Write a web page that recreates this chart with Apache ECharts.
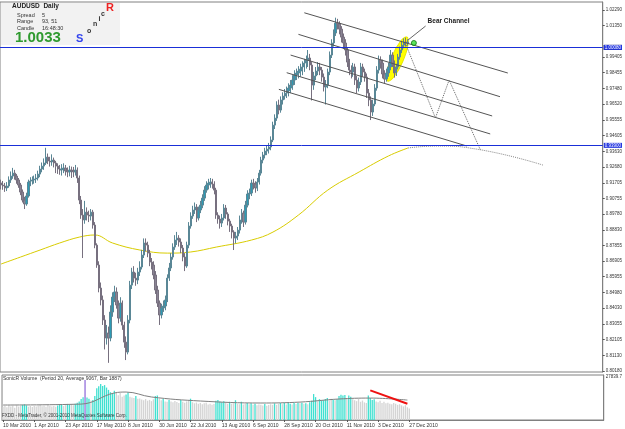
<!DOCTYPE html>
<html>
<head>
<meta charset="utf-8">
<title>AUDUSD Daily</title>
<script src="https://cdn.jsdelivr.net/npm/echarts@6/dist/echarts.min.js"></script>
<style>
  html, body { margin: 0; padding: 0; background: #fff; }
  #chart { width: 625px; height: 429px; }
</style>
</head>
<body>
<div id="chart"></div>
<script>
// daily bars from 10 Mar 2010, [open, close, low, high]
const candles = [
  [0.9170,0.9157,0.9130,0.9190],[0.9157,0.9151,0.9128,0.9182],[0.9151,0.9139,0.9115,0.9170],[0.9139,0.9151,0.9120,0.9175],
  [0.9151,0.9188,0.9140,0.9210],[0.9188,0.9212,0.9170,0.9240],[0.9212,0.9230,0.9195,0.9262],[0.9230,0.9212,0.9190,0.9250],
  [0.9212,0.9188,0.9165,0.9225],[0.9188,0.9157,0.9140,0.9200],[0.9157,0.9114,0.9095,0.9170],[0.9114,0.9065,0.9050,0.9130],
  [0.9065,0.9041,0.9010,0.9085],[0.9041,0.9090,0.9030,0.9110],[0.9090,0.9175,0.9080,0.9190],[0.9175,0.9181,0.9150,0.9205],
  [0.9181,0.9188,0.9160,0.9210],[0.9188,0.9194,0.9165,0.9215],[0.9194,0.9200,0.9170,0.9225],[0.9200,0.9224,0.9185,0.9245],
  [0.9224,0.9255,0.9205,0.9275],[0.9255,0.9273,0.9235,0.9295],[0.9273,0.9292,0.9250,0.9320],[0.9292,0.9328,0.9280,0.9385],
  [0.9328,0.9304,0.9285,0.9350],[0.9304,0.9298,0.9270,0.9330],[0.9298,0.9310,0.9275,0.9345],[0.9310,0.9292,0.9265,0.9325],
  [0.9292,0.9273,0.9230,0.9305],[0.9273,0.9255,0.9225,0.9290],[0.9255,0.9249,0.9220,0.9280],[0.9249,0.9255,0.9215,0.9285],
  [0.9255,0.9261,0.9230,0.9290],[0.9261,0.9243,0.9215,0.9280],[0.9243,0.9237,0.9205,0.9265],[0.9237,0.9249,0.9210,0.9275],
  [0.9249,0.9243,0.9200,0.9270],[0.9243,0.9237,0.9205,0.9268],[0.9237,0.9249,0.9215,0.9280],[0.9249,0.9200,0.9170,0.9265],
  [0.9200,0.9065,0.9040,0.9215],[0.9065,0.8973,0.8950,0.9090],[0.8973,0.8943,0.8710,0.9010],[0.8943,0.8991,0.8920,0.9060],
  [0.8991,0.8973,0.8940,0.9020],[0.8973,0.8967,0.8930,0.9000],[0.8967,0.8991,0.8940,0.9010],[0.8991,0.8912,0.8890,0.9005],
  [0.8912,0.8789,0.8770,0.8930],[0.8789,0.8667,0.8650,0.8800],[0.8667,0.8526,0.8500,0.8690],[0.8526,0.8453,0.8420,0.8560],
  [0.8453,0.8330,0.8300,0.8480],[0.8330,0.8220,0.8150,0.8360],[0.8220,0.8250,0.8180,0.8300],[0.8250,0.8220,0.8068,0.8290],
  [0.8220,0.8379,0.8200,0.8420],[0.8379,0.8471,0.8350,0.8500],[0.8471,0.8502,0.8440,0.8540],[0.8502,0.8422,0.8400,0.8530],
  [0.8422,0.8342,0.8310,0.8450],[0.8342,0.8434,0.8320,0.8470],[0.8434,0.8299,0.8270,0.8450],[0.8299,0.8195,0.8160,0.8320],
  [0.8195,0.8134,0.8085,0.8230],[0.8134,0.8330,0.8120,0.8360],[0.8330,0.8544,0.8310,0.8570],[0.8544,0.8624,0.8520,0.8650],
  [0.8624,0.8587,0.8560,0.8660],[0.8587,0.8575,0.8540,0.8620],[0.8575,0.8624,0.8550,0.8650],[0.8624,0.8655,0.8600,0.8690],
  [0.8655,0.8728,0.8640,0.8760],[0.8728,0.8802,0.8710,0.8830],[0.8802,0.8789,0.8750,0.8830],[0.8789,0.8740,0.8715,0.8810],
  [0.8740,0.8685,0.8660,0.8760],[0.8685,0.8667,0.8640,0.8710],[0.8667,0.8606,0.8580,0.8690],[0.8606,0.8514,0.8490,0.8630],
  [0.8514,0.8434,0.8410,0.8540],[0.8434,0.8361,0.8300,0.8450],[0.8361,0.8404,0.8340,0.8430],[0.8404,0.8416,0.8380,0.8450],
  [0.8416,0.8453,0.8390,0.8480],[0.8453,0.8587,0.8440,0.8610],[0.8587,0.8649,0.8570,0.8680],[0.8649,0.8716,0.8630,0.8740],
  [0.8716,0.8777,0.8700,0.8800],[0.8777,0.8820,0.8760,0.8850],[0.8820,0.8832,0.8790,0.8870],[0.8832,0.8808,0.8780,0.8850],
  [0.8808,0.8771,0.8740,0.8830],[0.8771,0.8716,0.8690,0.8790],[0.8716,0.8661,0.8630,0.8740],[0.8661,0.8789,0.8650,0.8810],
  [0.8789,0.8906,0.8770,0.8930],[0.8906,0.8967,0.8890,0.8990],[0.8967,0.9004,0.8950,0.9030],[0.9004,0.9022,0.8980,0.9050],
  [0.9022,0.8955,0.8930,0.9040],[0.8955,0.9004,0.8940,0.9025],[0.9004,0.9034,0.8985,0.9060],[0.9034,0.9077,0.9015,0.9100],
  [0.9077,0.9126,0.9060,0.9150],[0.9126,0.9157,0.9110,0.9180],[0.9157,0.9169,0.9130,0.9195],[0.9169,0.9175,0.9140,0.9200],
  [0.9175,0.9163,0.9135,0.9195],[0.9163,0.9126,0.9100,0.9180],[0.9126,0.8973,0.8950,0.9140],[0.8973,0.8949,0.8920,0.8990],
  [0.8949,0.8924,0.8890,0.8970],[0.8924,0.8955,0.8900,0.8980],[0.8955,0.9016,0.8940,0.9040],[0.9016,0.8979,0.8950,0.9035],
  [0.8979,0.8936,0.8910,0.8990],[0.8936,0.8906,0.8870,0.8950],[0.8906,0.8869,0.8830,0.8920],[0.8869,0.8832,0.8759,0.8880],
  [0.8832,0.8845,0.8800,0.8870],[0.8845,0.8881,0.8820,0.8900],[0.8881,0.8943,0.8860,0.8970],[0.8943,0.8985,0.8920,0.9010],
  [0.8985,0.8930,0.8900,0.9000],[0.8930,0.9034,0.8915,0.9060],[0.9034,0.9102,0.9020,0.9125],[0.9102,0.9108,0.9070,0.9135],
  [0.9108,0.9169,0.9090,0.9190],[0.9169,0.9163,0.9130,0.9195],[0.9163,0.9139,0.9110,0.9180],[0.9139,0.9175,0.9120,0.9200],
  [0.9175,0.9230,0.9160,0.9250],[0.9230,0.9310,0.9215,0.9330],[0.9310,0.9341,0.9290,0.9360],[0.9341,0.9365,0.9320,0.9385],
  [0.9365,0.9377,0.9340,0.9400],[0.9377,0.9390,0.9350,0.9415],[0.9390,0.9433,0.9370,0.9455],[0.9433,0.9524,0.9420,0.9545],
  [0.9524,0.9567,0.9500,0.9590],[0.9567,0.9647,0.9550,0.9670],[0.9647,0.9616,0.9590,0.9680],[0.9616,0.9678,0.9600,0.9700],
  [0.9678,0.9702,0.9650,0.9725],[0.9702,0.9720,0.9680,0.9745],[0.9720,0.9733,0.9690,0.9760],[0.9733,0.9751,0.9700,0.9780],
  [0.9751,0.9769,0.9720,0.9800],[0.9769,0.9800,0.9740,0.9830],[0.9800,0.9831,0.9770,0.9860],[0.9831,0.9843,0.9800,0.9870],
  [0.9843,0.9855,0.9810,0.9885],[0.9855,0.9867,0.9820,0.9900],[0.9867,0.9880,0.9830,0.9915],[0.9880,0.9904,0.9850,0.9930],
  [0.9904,0.9923,0.9870,0.9950],[0.9923,0.9935,0.9880,0.9984],[0.9935,0.9892,0.9860,0.9960],[0.9892,0.9769,0.9675,0.9910],
  [0.9769,0.9825,0.9740,0.9850],[0.9825,0.9855,0.9800,0.9880],[0.9855,0.9880,0.9830,0.9910],[0.9880,0.9861,0.9830,0.9905],
  [0.9861,0.9818,0.9790,0.9880],[0.9818,0.9757,0.9730,0.9840],[0.9757,0.9769,0.9650,0.9800],[0.9769,0.9849,0.9750,0.9870],
  [0.9849,0.9953,0.9830,0.9975],[0.9953,1.0027,0.9935,1.0050],[1.0027,1.0088,1.0005,1.0110],[1.0088,1.0149,1.0070,1.0182],
  [1.0149,1.0143,1.0110,1.0175],[1.0143,1.0112,1.0080,1.0160],[1.0112,1.0063,1.0030,1.0130],[1.0063,1.0027,0.9990,1.0085],
  [1.0027,0.9984,0.9950,1.0050],[0.9984,0.9910,0.9880,1.0000],[0.9910,0.9861,0.9830,0.9930],[0.9861,0.9849,0.9810,0.9890],
  [0.9849,0.9880,0.9820,0.9905],[0.9880,0.9800,0.9770,0.9900],[0.9800,0.9751,0.9720,0.9825],[0.9751,0.9788,0.9730,0.9815],
  [0.9788,0.9880,0.9770,0.9905],[0.9880,0.9849,0.9820,0.9900],[0.9849,0.9818,0.9790,0.9870],[0.9818,0.9720,0.9690,0.9840],
  [0.9720,0.9678,0.9640,0.9745],[0.9678,0.9604,0.9555,0.9700],[0.9604,0.9653,0.9580,0.9680],[0.9653,0.9751,0.9640,0.9775],
  [0.9751,0.9861,0.9735,0.9885],[0.9861,0.9923,0.9840,0.9950],[0.9923,0.9904,0.9870,0.9945],[0.9904,0.9837,0.9810,0.9925],
  [0.9837,0.9806,0.9780,0.9860],[0.9806,0.9843,0.9790,0.9870],[0.9843,0.9880,0.9820,0.9905],[0.9880,0.9953,0.9860,0.9984],
  [0.9953,0.9904,0.9880,0.9970],[0.9904,0.9843,0.9815,0.9920],[0.9843,0.9880,0.9825,0.9900],[0.9880,0.9941,0.9865,0.9960],
  [0.9941,0.9984,0.9925,1.0005],[0.9984,1.0014,0.9965,1.0035],[1.0014,1.0033,0.9995,1.0055],[1.0033,1.0027,1.0005,1.0060],
  [1.0027,1.0033,1.0010,1.0050]
];

// SonicR volume per bar and its colour state (0 grey, 1 turquoise, 2 spike)
const volumes = [
  8500,9000,8200,9500,8800,9200,8000,9600,8700,9300,9800,10200,9500,8600,9000,8400,9100,8800,9400,9700,
  8900,9200,8600,9900,9300,8700,9100,8500,9400,10200,10000,9000,9600,10400,9800,10100,9500,10600,11200,12000,
  13600,14800,25900,14500,13800,12600,13000,15500,20500,21800,23300,22000,22600,21000,19500,18000,17200,19000,17400,16000,
  17400,15000,15800,16500,17800,15000,14500,14200,15500,13800,14000,13200,12800,13600,12500,13000,12200,13400,15500,15800,
  14000,12800,13600,12000,11800,13000,12000,11500,12300,11600,11000,13000,11800,11200,12000,12600,13800,11500,10800,11300,
  10500,11000,10200,10800,11200,10000,10600,9800,10400,12500,13000,12000,11500,12200,11200,10600,11800,10500,10800,12800,
  10500,10200,11800,10000,10600,11000,10200,10800,9800,10500,9600,10000,9800,9400,10300,9200,9700,10200,9800,10800,
  9800,10400,11000,10200,11200,10000,11400,10600,10000,11200,10400,11000,10800,11200,10600,10900,10200,11500,12500,16800,
  14800,12000,13500,12400,12800,13600,14200,12600,13800,13200,12800,13500,15500,16300,15800,16200,14000,15800,15000,13500,
  12800,12200,13600,11800,12600,11400,11000,15800,14200,13000,13500,12000,11500,12400,11000,11800,10800,11200,10600,10200,
  11000,10500,9800,10200,9500,8800,9600,8200,7500
];
const volState = [
  0,0,0,0,0,0,0,0,0,0,1,1,1,0,0,0,0,0,0,0,
  0,0,0,0,0,0,0,0,1,1,1,0,0,1,1,0,0,1,1,1,
  1,1,2,1,1,0,1,1,1,1,1,1,1,1,1,1,1,1,0,0,
  0,0,0,1,1,0,0,0,1,0,0,0,0,0,0,0,0,0,1,1,
  0,0,1,0,0,1,0,0,0,0,0,1,0,0,0,0,1,0,0,0,
  0,0,0,0,0,0,0,0,0,1,1,1,1,1,0,0,1,0,0,1,
  0,0,1,0,0,1,0,1,0,1,0,0,0,0,1,0,0,0,0,1,
  0,0,1,0,1,0,1,1,0,1,0,1,0,1,0,1,0,1,1,1,
  1,0,1,1,1,1,1,0,0,1,0,1,1,1,1,1,0,1,1,0,
  0,0,0,0,0,0,0,1,1,1,1,0,0,0,0,0,0,0,0,0,
  0,0,0,0,0,0,0,0,0
];
const volAvg = [[0, 9700], [40, 10300], [57, 17500], [63, 18100], [76, 14900], [101, 12300],
  [132, 11000], [152, 11600], [172, 13600], [188, 14200], [207, 12900]];

// yellow moving average, read at sample bars, and its dotted projection
const maLine = [[0, 0.8673], [10, 0.8716], [20, 0.8759], [30, 0.8802], [40, 0.8838], [48, 0.8851],
  [57, 0.8802], [71, 0.8759], [85, 0.8740], [97, 0.8747], [110, 0.8777], [128, 0.8820],
  [139, 0.8869], [152, 0.8973], [167, 0.9126], [183, 0.9237], [198, 0.9335], [208, 0.9384]];
const maProjection = [[208, 0.9384], [223, 0.9396], [243, 0.9377], [277, 0.9279]];

// bear channel (five parallel lines) and projected zigzag
const channelLines = [
  [[155, 1.0212], [259, 0.9843]],
  [[152, 1.0080], [255, 0.9698]],
  [[148, 0.9953], [251, 0.9580]],
  [[146, 0.9845], [250, 0.9470]],
  [[142, 0.9743], [238, 0.9396]]
];
const zigzag = [[207, 1.0015], [222, 0.9568], [229, 0.9800], [245, 0.9372]];
const highlightEnds = [[198, 0.9805], [207, 1.0052]];
const bearLabel = [218, 1.0160];
const bearPointer = [[217, 1.0131], [208, 1.0045]];
const marker = [211, 1.0027];

const bid = 1.0033;
const blueLevels = [1.0008, 0.9390];
const volTrend = [[188, 19200], [207, 10500]];

const priceTicks = [1.02290, 1.01350, 0.99405, 0.98455, 0.97480, 0.96520, 0.95555, 0.94605,
  0.93630, 0.92680, 0.91705, 0.90755, 0.89780, 0.88830, 0.87855, 0.86905, 0.85955, 0.84980,
  0.84030, 0.83055, 0.82105, 0.81130, 0.80180];
const volTicks = [27839.7];

const totalSlots = 308;
const monthNames = ["Jan", "Feb", "Mar", "Apr", "May", "Jun", "Jul", "Aug", "Sep", "Oct", "Nov", "Dec"];
const days = [];
let d = new Date(Date.UTC(2010, 2, 10));
while (days.length < totalSlots) {
  const wd = d.getUTCDay();
  if (wd !== 0 && wd !== 6) {
    days.push(d.getUTCDate() + " " + monthNames[d.getUTCMonth()] + " " + d.getUTCFullYear());
  }
  d.setUTCDate(d.getUTCDate() + 1);
}

const FONT = "Liberation Sans";
const volColors = ["#d4d4d4", "#40e0d0", "#9370db"];
const labelEvery = (idx) => idx % 16 === 0 && idx < candles.length;

const chart = echarts.init(document.getElementById("chart"));

chart.setOption({
  animation: false,
  backgroundColor: "#ffffff",
  textStyle: { fontFamily: FONT },
  grid: [
    { left: 0, right: 19, top: 2, height: 370, show: true, borderColor: "#808080", borderWidth: 1 },
    { left: 0, right: 19, top: 375, height: 45, show: true, borderColor: "#808080", borderWidth: 1 }
  ],
  xAxis: [
    {
      type: "category", gridIndex: 0, data: days, boundaryGap: true,
      axisLine: { show: false }, axisTick: { show: false }, axisLabel: { show: false }
    },
    {
      type: "category", gridIndex: 1, data: days, boundaryGap: true,
      axisLine: { show: true, lineStyle: { color: "#808080" } },
      axisTick: { show: true, interval: (i) => labelEvery(i), length: 2, alignWithLabel: true, lineStyle: { color: "#555" } },
      axisLabel: {
        interval: (i) => labelEvery(i), fontSize: 5, color: "#333", align: "left", margin: 3
      }
    }
  ],
  yAxis: [
    {
      type: "value", gridIndex: 0, position: "right", min: 0.80119, max: 1.0278, scale: true,
      splitLine: { show: false },
      axisLine: { show: true, lineStyle: { color: "#808080" } },
      axisTick: { show: true, length: 2, customValues: priceTicks, lineStyle: { color: "#555" } },
      axisLabel: { customValues: priceTicks, fontSize: 4.5, color: "#333", margin: 3, formatter: (v) => v.toFixed(5) }
    },
    {
      type: "value", gridIndex: 1, position: "right", min: 0, max: 29134,
      splitLine: { show: false },
      axisLine: { show: true, lineStyle: { color: "#808080" } },
      axisTick: { show: false },
      axisLabel: { customValues: volTicks, fontSize: 4.5, color: "#333", margin: 2, formatter: (v) => v.toFixed(1) }
    }
  ],
  series: [
    {
      type: "candlestick", xAxisIndex: 0, yAxisIndex: 0, data: candles, barWidth: 1.8, z: 3,
      itemStyle: {
        color: "#2c9bb5", color0: "#8a8494",
        borderColor: "#5a8796", borderColor0: "#77707f", borderWidth: 1
      },
      markLine: {
        silent: true, symbol: "none", animation: false,
        data: [
          {
            yAxis: bid,
            lineStyle: { color: "#999", type: "dotted", width: 1 },
            label: { position: "end", distance: 1, formatter: bid.toFixed(5), fontSize: 4.5, color: "#fff", backgroundColor: "#000", padding: [0, 1] }
          },
          ...blueLevels.map((v) => ({
            yAxis: v,
            lineStyle: { color: "#1a2fd8", type: "solid", width: 1 },
            label: { position: "end", distance: 1, formatter: v.toFixed(5), fontSize: 4.5, color: "#fff", backgroundColor: "#2436e0", padding: [0, 1] }
          }))
        ]
      }
    },
    {
      type: "line", xAxisIndex: 0, yAxisIndex: 0, data: maLine, smooth: 0.4, showSymbol: false, z: 2,
      lineStyle: { color: "#d8cc00", width: 1 }
    },
    {
      type: "line", xAxisIndex: 0, yAxisIndex: 0, data: maProjection, smooth: 0.5, showSymbol: false, z: 2,
      lineStyle: { color: "#888", width: 1, type: "dotted" }
    },
    ...channelLines.map((seg) => ({
      type: "line", xAxisIndex: 0, yAxisIndex: 0, data: seg, showSymbol: false, z: 4,
      lineStyle: { color: "#555", width: 1 }
    })),
    {
      type: "line", xAxisIndex: 0, yAxisIndex: 0, data: zigzag, showSymbol: false, z: 4,
      lineStyle: { color: "#666", width: 1, type: "dotted" }
    },
    {
      type: "scatter", xAxisIndex: 0, yAxisIndex: 0, data: [marker], symbolSize: 5, z: 5,
      itemStyle: { color: "#33dd33", borderColor: "#117711", borderWidth: 1 }
    },
    {
      type: "bar", xAxisIndex: 1, yAxisIndex: 1, barWidth: 1.3,
      data: volumes.map((v, i) => ({ value: v, itemStyle: { color: volColors[volState[i]] } }))
    },
    {
      type: "line", xAxisIndex: 1, yAxisIndex: 1, data: volAvg, smooth: 0.4, showSymbol: false,
      lineStyle: { color: "#808080", width: 1 }
    },
    {
      type: "line", xAxisIndex: 1, yAxisIndex: 1, data: volTrend, showSymbol: false,
      lineStyle: { color: "#ee1111", width: 2 }
    }
  ]
});

const px = (p) => chart.convertToPixel({ xAxisIndex: 0, yAxisIndex: 0 }, p);
const e0 = px(highlightEnds[0]);
const e1 = px(highlightEnds[1]);
const lab = px(bearLabel);
const p0 = px(bearPointer[0]);
const p1 = px(bearPointer[1]);
const txt = (text, x, y, font, fill) => ({
  type: "text", x: x, y: y, z: 20,
  style: { text: text, font: font, fill: fill, textVerticalAlign: "middle" }
});

chart.setOption({
  graphic: [
    {
      type: "ellipse", z: 1,
      x: (e0[0] + e1[0]) / 2, y: (e0[1] + e1[1]) / 2,
      rotation: -Math.atan2(e1[1] - e0[1], e1[0] - e0[0]),
      shape: { cx: 0, cy: 0, rx: Math.hypot(e1[0] - e0[0], e1[1] - e0[1]) / 2 + 2, ry: 6 },
      style: { fill: "#ffff00", stroke: "#e8e800" }
    },
    {
      type: "line", z: 10,
      shape: { x1: p0[0], y1: p0[1], x2: p1[0], y2: p1[1] },
      style: { stroke: "#666", lineWidth: 1 }
    },
    txt("Bear Channel", lab[0], lab[1], "bold 6.5px " + FONT, "#222"),
    { type: "rect", z: 15, shape: { x: 1, y: 3, width: 119, height: 42 }, style: { fill: "#f2f2f2" } },
    txt("AUDUSD  Daily", 12, 6, "bold 6.5px " + FONT, "#222"),
    txt("Spread", 17, 15, "5.5px " + FONT, "#333"),
    txt("5", 42, 15, "5.5px " + FONT, "#333"),
    txt("Range", 17, 21.5, "5.5px " + FONT, "#333"),
    txt("93, 51", 42, 21.5, "5.5px " + FONT, "#333"),
    txt("Candle", 17, 28, "5.5px " + FONT, "#333"),
    txt("16:48:30", 42, 28, "5.5px " + FONT, "#333"),
    txt(bid.toFixed(4), 15, 38, "bold 15px " + FONT, "#2f9a2f"),
    txt("S", 76, 39, "bold 11px " + FONT, "#3344ee"),
    txt("o", 87, 31, "bold 7px " + FONT, "#333"),
    txt("n", 93, 24.5, "bold 7px " + FONT, "#333"),
    txt("i", 98.5, 19, "bold 7px " + FONT, "#333"),
    txt("c", 101, 14, "bold 7px " + FONT, "#333"),
    txt("R", 106, 7.5, "bold 11px " + FONT, "#ee2222"),
    txt("SonicR Volume  (Period 20, Average 9067, Bar 1887)", 3, 379, "5px " + FONT, "#333"),
    txt("FXDD - MetaTrader, \u00a9 2001-2010 MetaQuotes Software Corp.", 2, 415.5, "4.5px " + FONT, "#333")
  ]
});
</script>
</body>
</html>
